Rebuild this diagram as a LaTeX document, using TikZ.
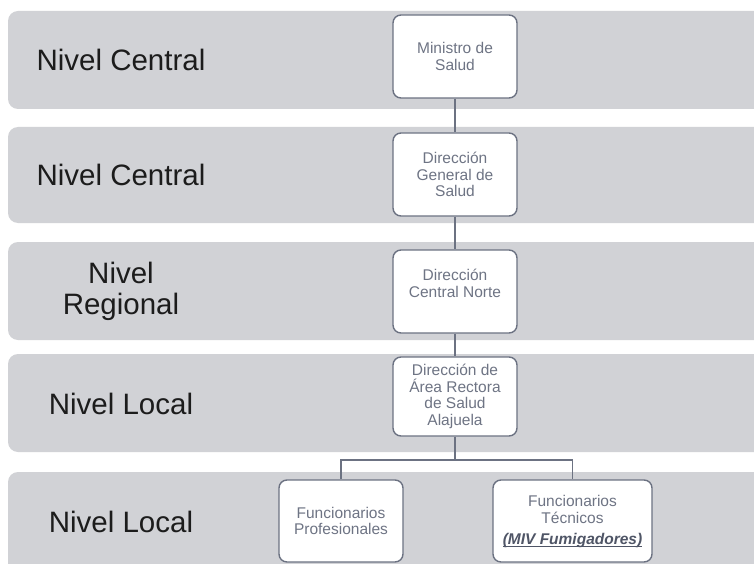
\documentclass[tikz,border=0pt]{standalone}
\usepackage{fontspec}
\setmainfont{Liberation Sans}
\definecolor{bandgray}{HTML}{D1D2D6}
\definecolor{boxline}{HTML}{6C7282}
\definecolor{boxtext}{HTML}{6E7484}
\definecolor{emtext}{HTML}{4F5566}
\definecolor{labeltext}{HTML}{1C1C1C}
\tikzset{
  band/.style={fill=bandgray, rounded corners=10pt},
  orgbox/.style={draw=boxline, line width=1.4pt, fill=white, rounded corners=8pt,
    minimum width=124pt, minimum height=83pt, align=center, text=boxtext,
    font=\fontsize{15.5pt}{16.7pt}\selectfont, inner sep=2pt},
  level/.style={text=labeltext, align=center, font=\fontsize{29.5pt}{31pt}\selectfont},
  conn/.style={draw=boxline, line width=1.4pt}
}
\begin{document}
\begin{tikzpicture}[x=1pt,y=-1pt]
\useasboundingbox (0,0) rectangle (754,564);
\fill[white] (0,0) rectangle (754,564);
% bands
\fill[band] (8,11) rectangle (780,109);
\fill[band] (8,127) rectangle (780,223);
\fill[band] (8,242) rectangle (780,340);
\fill[band] (8,354) rectangle (780,452);
\fill[band] (8,472) rectangle (780,600);
% level labels
\node[level] (l1) at (121,60) {Nivel Central};
\node[level] (l2) at (121,175) {Nivel Central};
\node[level] (l3) at (121,291) {Nivel\\Regional};
\node[level] (l4) at (121,404) {Nivel Local};
\node[level] (l5) at (121,522) {Nivel Local};
% boxes
\node[orgbox] (m) at (455,56.5) {Ministro de\\Salud};
\node[orgbox] (dg) at (455,174.5) {Dirección\\General de\\Salud};
\node[orgbox] (dcn) at (455,291.5) {Dirección\\Central Norte\\\mbox{}};
\node[orgbox, minimum height=79pt] (da) at (455,396.5) {Dirección de\\Área Rectora\\de Salud\\Alajuela};
\node[orgbox, minimum height=82pt] (fp) at (341,521) {Funcionarios\\Profesionales};
\node[orgbox, minimum width=159pt, minimum height=82pt] (ft) at (572.5,521)
  {Funcionarios\\Técnicos\\[4pt]{\color{emtext}\bfseries\itshape\underbar{(MIV Fumigadores)}}};
% connectors
\coordinate (br) at (455,460);
\draw[conn] (m) -- (dg);
\draw[conn] (dg) -- (dcn);
\draw[conn] (dcn) -- (da);
\draw[conn] (da.south) -- (br);
\draw[conn] (br) -| (fp.north);
\draw[conn] (br) -| (ft.north);
\end{tikzpicture}
\end{document}
